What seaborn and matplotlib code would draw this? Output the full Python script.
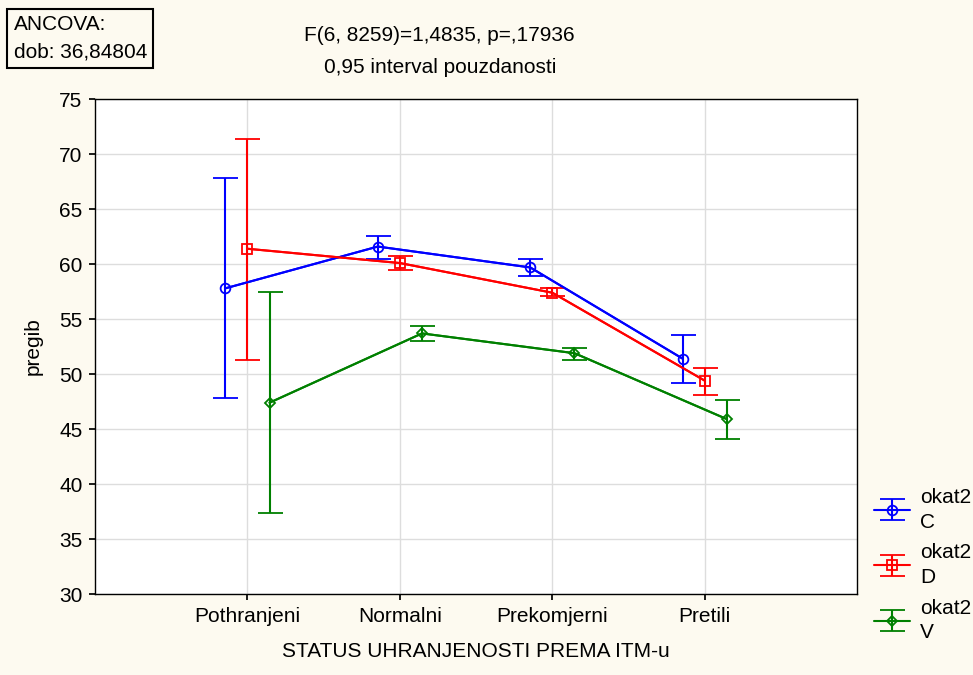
import matplotlib
matplotlib.use("Agg")
import matplotlib.pyplot as plt
import seaborn as sns
import pandas as pd
import numpy as np

categories = ["Pothranjeni", "Normalni", "Prekomjerni", "Pretili"]
groups = ["C", "D", "V"]
mean_C = [57.8, 61.6, 59.7, 51.4]
lo_C = [47.8, 60.5, 58.9, 49.2]
hi_C = [67.8, 62.6, 60.5, 53.6]
mean_D = [61.4, 60.1, 57.4, 49.4]
lo_D = [51.3, 59.5, 57.1, 48.1]
hi_D = [71.4, 60.7, 57.8, 50.6]
mean_V = [47.4, 53.7, 51.9, 45.9]
lo_V = [37.4, 53.0, 51.3, 44.1]
hi_V = [57.5, 54.4, 52.4, 47.6]
y_ticks = [30, 35, 40, 45, 50, 55, 60, 65, 70, 75]

sns.set_theme(style="white")
plt.rcParams['font.family'] = ['Liberation Sans', 'DejaVu Sans']
plt.rcParams['text.color'] = 'black'
plt.rcParams['axes.labelcolor'] = 'black'
plt.rcParams['xtick.color'] = 'black'
plt.rcParams['ytick.color'] = 'black'

means = {"C": mean_C, "D": mean_D, "V": mean_V}
los = {"C": lo_C, "D": lo_D, "V": lo_V}
his = {"C": hi_C, "D": hi_D, "V": hi_V}
colors = {"C": "#0000FF", "D": "#FF0000", "V": "#008000"}
offsets = {"C": -0.145, "D": 0.0, "V": 0.145}
markers = {"C": "o", "D": "s", "V": "D"}
msizes = {"C": 7, "D": 6.5, "V": 5}

rows = []
for g in groups:
    for i, c in enumerate(categories):
        rows.append({"x": i + offsets[g], "y": means[g][i], "grp": g,
                     "lo": los[g][i], "hi": his[g][i]})
df = pd.DataFrame(rows)

FS = 15
bg = "#FDFAF0"
fig = plt.figure(figsize=(9.73, 6.75), dpi=100, facecolor=bg)
ax = fig.add_axes([0.0976, 0.12, 0.7835, 0.733])
ax.set_facecolor("white")

sns.lineplot(data=df, x="x", y="y", hue="grp", palette=colors, ax=ax,
             linewidth=1.5, legend=False, sort=True)

handles = []
for g in groups:
    d = df[df.grp == g]
    h = ax.errorbar(d["x"], d["y"], yerr=[d["y"] - d["lo"], d["hi"] - d["y"]],
                    fmt=markers[g], color=colors[g], mfc="none", mec=colors[g],
                    ms=msizes[g], mew=1.3, ecolor=colors[g], elinewidth=1.5,
                    capsize=9, capthick=1.5, linestyle="-", lw=1.5,
                    label=f"okat2\n{g}", zorder=3)
    handles.append(h)

ax.set_xlim(-1, 4)
ax.set_ylim(30, 75)
ax.set_xticks(range(len(categories)))
ax.set_xticklabels(categories, fontsize=FS)
ax.set_yticks(y_ticks)
ax.set_yticklabels([str(t) for t in y_ticks], fontsize=FS)
ax.grid(True, color="#DDDDDD", linewidth=1)
ax.set_axisbelow(True)
for s in ax.spines.values():
    s.set_color("black")
    s.set_linewidth(1)
ax.tick_params(axis="both", direction="out", length=4, color="black",
               left=True, bottom=True, pad=5)
ax.set_xlabel("STATUS UHRANJENOSTI PREMA ITM-u", fontsize=FS, labelpad=12)
ax.set_ylabel("pregib", fontsize=FS, labelpad=12)

fig.text(0.452, 0.948, "F(6, 8259)=1,4835, p=,17936", ha="center", va="center", fontsize=FS)
fig.text(0.452, 0.900, "0,95 interval pouzdanosti", ha="center", va="center", fontsize=FS)
fig.text(0.014, 0.943, "ANCOVA:\ndob: 36,84804", ha="left", va="center", fontsize=FS,
         linespacing=1.6,
         bbox=dict(boxstyle="square,pad=0.3", facecolor=bg, edgecolor="black", linewidth=1.5))

leg = fig.legend(handles=handles, labels=[f"okat2\n{g}" for g in groups],
                 loc="upper left", bbox_to_anchor=(0.89, 0.29), frameon=False,
                 fontsize=FS, handlelength=1.7, labelspacing=0.55, handletextpad=0.5,
                 borderaxespad=0)
for t in leg.get_texts():
    t.set_linespacing(1.4)

fig.savefig("out.png", dpi=100, facecolor=bg)
